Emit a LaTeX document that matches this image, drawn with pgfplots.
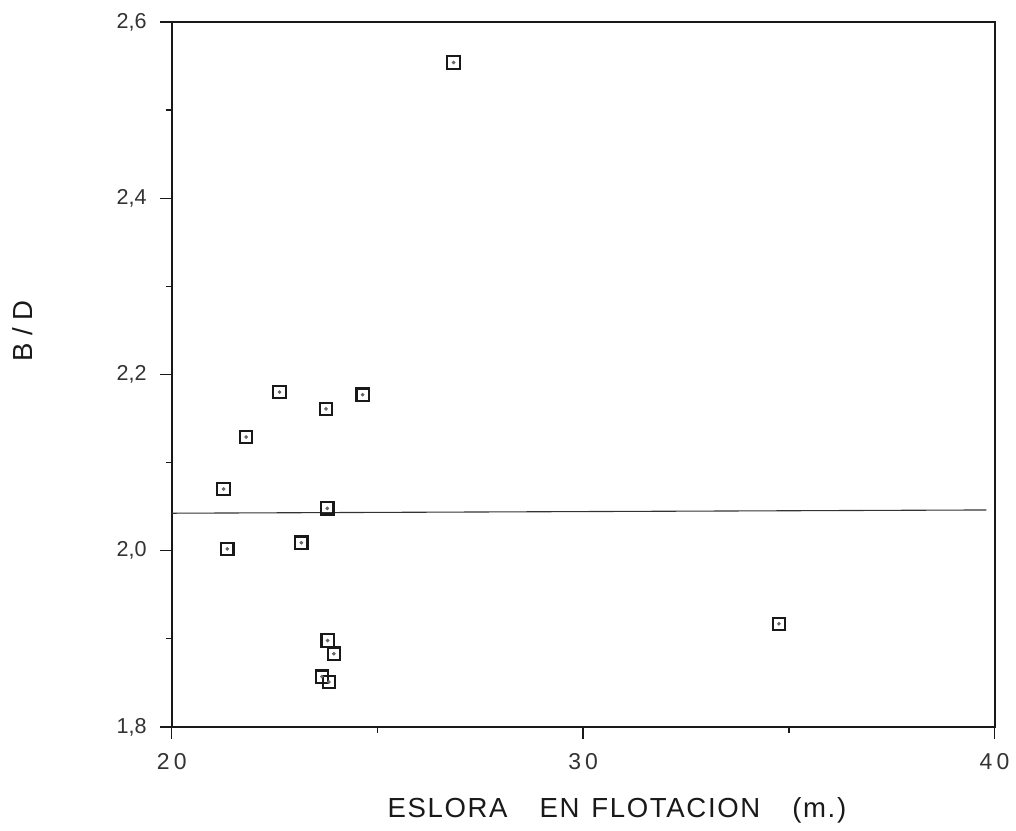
\documentclass[border=0pt]{standalone}
\usepackage{fontspec}
\setmainfont{Liberation Sans}
\newfontfamily\tickfont{Liberation Sans}[LetterSpace=18]
\newfontfamily\labfont{Liberation Sans}[LetterSpace=6]
\usepackage{pgfplots}
\usepackage{pgfplotstable}
\pgfplotsset{compat=1.18}
\usetikzlibrary{calc}
\pgfplotstableread{
x y
26.85 2.554
22.62 2.180
23.75 2.161
24.64 2.177
21.81 2.129
21.26 2.070
23.78 2.048
23.15 2.009
21.35 2.002
23.79 1.898
23.94 1.883
23.65 1.857
23.82 1.851
34.76 1.917
}\pts
\begin{document}
\begin{tikzpicture}
\begin{axis}[
  scale only axis, width=412pt, height=353pt,
  xmin=20, xmax=40, ymin=1.8, ymax=2.6,
  xtick={20,30,40}, ytick={1.8,2.0,2.2,2.4,2.6},
  xticklabels={20,30,40},
  yticklabels={{1,8},{2,0},{2,2},{2,4},{2,6}},
  minor x tick num=1, minor y tick num=1,
  tick align=outside, xtick pos=bottom, ytick pos=left,
  major tick length=6pt, minor tick length=3pt,
  axis line style={line width=1pt, black!90},
  every tick/.style={black!90, line width=0.7pt},
  xticklabel style={font=\tickfont\fontsize{11.5}{12}\selectfont, text=black!80, yshift=-4pt},
  yticklabel style={font=\fontsize{10.8}{12}\selectfont, text=black!80, xshift=-3pt},
  xlabel={\labfont ESLORA\hspace{16pt}EN\hspace{6pt}FLOTACION\hspace{16pt}(m.)},
  xlabel style={at={(axis description cs:0.541,-0.119)}, anchor=center, font=\fontsize{13.8}{15}\selectfont, text=black!90},
  ylabel={B / D},
  ylabel style={at={(axis description cs:-0.181,0.562)}, anchor=center, font=\fontsize{13.8}{15}\selectfont, text=black!90},
  clip=false,
]
\addplot[no marks, line width=0.55pt, black!80] coordinates {(20,2.0425) (39.8,2.0462)};
\addplot[only marks, mark=square, mark size=3.1pt, mark options={line width=1.1pt, black!90}] table {\pts};
\addplot[only marks, mark=*, mark size=0.7pt, mark options={black!60}] table {\pts};
\end{axis}
\path ($(current axis.south west)+(-86pt,-49pt)$) rectangle ($(current axis.north east)+(10pt,11pt)$);
\end{tikzpicture}
\end{document}
